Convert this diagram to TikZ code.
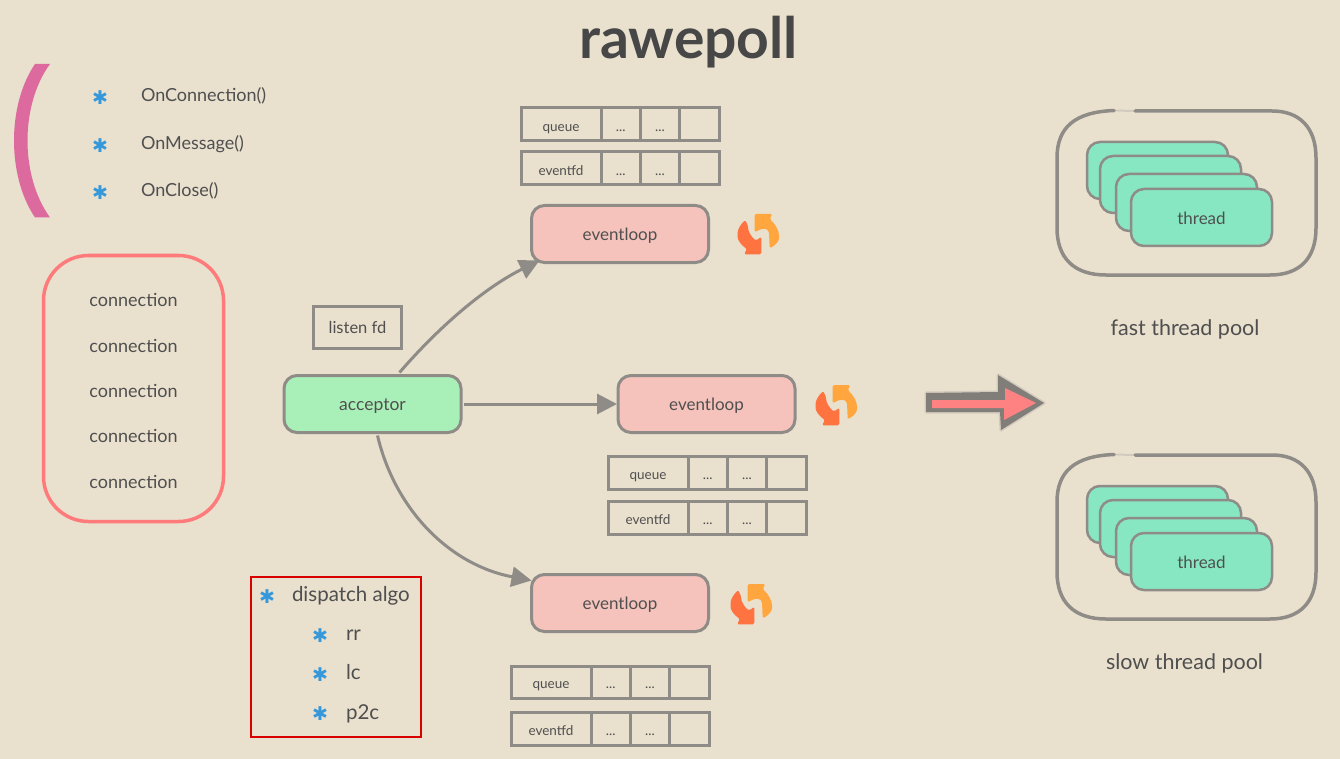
\documentclass[tikz,border=0pt]{standalone}
\usepackage{fontspec}
\setmainfont{Lato}
\newfontfamily\symfont{DejaVu Sans}
\usetikzlibrary{arrows.meta,calc}
\definecolor{bgc}{HTML}{E9E0CE}
\definecolor{linec}{HTML}{8F8C88}
\definecolor{txt}{HTML}{4F4F4F}
\definecolor{loopc}{HTML}{F5C3BB}
\definecolor{accc}{HTML}{A9F0B8}
\definecolor{thr}{HTML}{86E7C2}
\definecolor{pinkc}{HTML}{DD6A9E}
\definecolor{connc}{HTML}{FF7B7B}
\definecolor{bluec}{HTML}{3498DB}
\definecolor{amberc}{HTML}{FFA63F}
\definecolor{redorc}{HTML}{FF7340}
\newcommand{\fs}[1]{\fontsize{#1}{#1}\selectfont}
\tikzset{
 x=1pt,y=-1pt,
 every node/.style={text=txt,inner sep=0pt,outer sep=0pt,text height=15.6pt,text depth=2.2pt},
 lbl/.style={font=\fs{18}},
 poollbl/.style={font=\fs{21.5}},
 algo/.style={font=\fs{20.5}},
 cell/.style={draw=linec,line width=3pt,minimum height=33pt,anchor=west,font=\fs{13.5}},
 loopbox/.style={draw=linec,fill=loopc,line width=3pt,rounded corners=13pt,minimum width=177pt,minimum height=57pt,font=\fs{17}},
 thrbox/.style={draw=linec,fill=thr,line width=2.5pt,rounded corners=13pt,minimum width=141pt,minimum height=57pt,font=\fs{17}},
 conn/.style={draw=linec,line width=3pt,-{Triangle[length=20pt,width=20pt]}},
 star/.style={font=\symfont\fs{19},text=bluec},
 outerline/.style={draw=linec,line width=3.5pt,line cap=round},
}
\newcommand{\qtable}[5]{% prefix x y-centre label cellheight
 \node[cell,minimum width=80pt,minimum height=#5pt] (#1a) at (#2,#3) {#4};
 \node[cell,minimum width=39.5pt,minimum height=#5pt] (#1b) at (#1a.east) {...};
 \node[cell,minimum width=39pt,minimum height=#5pt] (#1c) at (#1b.east) {...};
 \node[cell,minimum width=39.5pt,minimum height=#5pt] (#1d) at (#1c.east) {};
}
\newcommand{\syncicon}[2]{%
 \begin{scope}[shift={(#1,#2)}]
  \fill[rounded corners=1.5pt,fill=amberc] (-3.3,-20) -- (14.3,-20) -- (11.7,-15) .. controls (17,-10) and (21,-4) .. (21,3) .. controls (21,8) and (16,12) .. (11.7,14.3) -- (11,-2.3) .. controls (8,-6) and (4,-6) .. (-3.3,-1.7) -- cycle;
  \fill[rounded corners=1.5pt,fill=redorc] (-12.7,-14) .. controls (-17,-10) and (-20.5,-5) .. (-20.5,1) .. controls (-20.5,6) and (-17,11) .. (-11,15) -- (-14,20.3) -- (3.3,20.3) -- (3.3,2.7) -- (-1.7,6.5) .. controls (-6,4) and (-10,-3) .. (-9.7,-7) -- cycle;
 \end{scope}}
\newcommand{\pool}[2]{% prefix, y offset
 \begin{scope}[yshift=-#2pt]
 \node[thrbox] (#1t1) at (1157.5,170.5) {};
 \node[thrbox] (#1t2) at (1170.5,184.5) {};
 \node[thrbox] (#1t3) at (1186.5,202.5) {};
 \node[thrbox] (#1t4) at (1201.5,217.5) {thread};
 \draw[outerline] (1135,111) -- (1272,111) .. controls (1300,111) and (1316,128) .. (1316,158) -- (1316,228) .. controls (1316,258) and (1300,275) .. (1270,275) -- (1106,275) .. controls (1074,275) and (1057,258) .. (1057,228) -- (1057,158) .. controls (1057,128) and (1074,112) .. (1114,110.5);
 \draw[draw=linec,line width=2pt,opacity=.25] (1114,110.5) -- (1135,111);
 \end{scope}}
\begin{document}
\begin{tikzpicture}
\useasboundingbox (0,0) rectangle (1340,759);
\fill[bgc] (0,0) rectangle (1340,759);
\node[font=\fs{57}\bfseries,text=txt!90!black] (title) at (688.5,52) {rawepoll};
% pink arc
\fill[pinkc] (35,64) .. controls (7,105) and (7,176) .. (35,217.5) -- (50,217.5) .. controls (20,176) and (20,105) .. (50,64) -- cycle;
% callbacks
\node[star] (s1) at (100,98) {✱};
\node[star] (s2) at (100,146) {✱};
\node[star] (s3) at (100,193) {✱};
\node[lbl,anchor=west] (cb1) at (141,95) {OnConnection()};
\node[lbl,anchor=west] (cb2) at (141,143) {OnMessage()};
\node[lbl,anchor=west] (cb3) at (141,190) {OnClose()};
% connections
\node[draw=connc,line width=3.5pt,rounded corners=45pt,minimum width=180pt,minimum height=266pt] (cbox) at (133.5,388.5) {};
\foreach \y/\n in {300/1,346/2,391/3,436/4,482/5}
  \node[lbl] (c\n) at (133.5,\y) {connection};
% tables
\qtable{qa}{521}{124.5}{queue}{33}
\qtable{fa}{521}{168.5}{eventfd}{33}
\qtable{qb}{608}{472.5}{queue}{33}
\qtable{fb}{608}{517.5}{eventfd}{33}
\qtable{qc}{511}{682}{queue}{32}
\qtable{fc}{511}{728.5}{eventfd}{33}
% loops
\node[loopbox] (l1) at (620,234) {eventloop};
\node[loopbox] (l2) at (706.5,404) {eventloop};
\node[loopbox] (l3) at (620,603) {eventloop};
\node[draw=linec,fill=accc,line width=3pt,rounded corners=13pt,minimum width=177pt,minimum height=57pt,font=\fs{17.5}] (acc) at (372.5,404) {acceptor};
\node[draw=linec,line width=3pt,minimum width=88pt,minimum height=42pt,font=\fs{16.5}] (lfd) at (357.5,327) {listen fd};
% connectors
\draw[conn] ([shift={(27,-3)}]acc.north) .. controls (445,320) and (490,285) .. ([shift={(8,-2)}]l1.south west);
\draw[conn] ([shift={(3,0)}]acc.east) -- ([xshift=-1pt]l2.west);
\draw[conn] ([shift={(5,3)}]acc.south) .. controls (395,510) and (450,565) .. ([shift={(0,6)}]l3.north west);
% icons
\syncicon{758}{234}
\syncicon{836}{405}
\syncicon{751}{604}
% big arrow
\draw[linec,line width=3pt,opacity=.25,line join=round] (926,393) -- (998,392) -- (998,375) -- (1044,403) -- (1001,430) -- (1000,412) -- (926,412) -- cycle;
\fill[linec!90!black] (926,393) -- (998,392) -- (998,375) -- (1044,403) -- (1001,430) -- (1000,412) -- (926,412) -- cycle;
\fill[connc!95!white] (932,400) -- (1005,400) -- (1005,388) -- (1036,403) -- (1004,420) -- (1004,408) -- (932,408) -- cycle;
% pools
\pool{a}{0}
\pool{b}{344}
\node[poollbl] (pa) at (1185,329) {fast thread pool};
\node[poollbl] (pb) at (1184.5,663) {slow thread pool};
% dispatch box
\node[draw=red!85!black,line width=2pt,minimum width=170pt,minimum height=160pt] (dbox) at (336,657) {};
\node[star] (d0) at (267,597) {✱};
\node[star] (d1) at (320,636) {✱};
\node[star] (d2) at (320,675) {✱};
\node[star] (d3) at (320,714) {✱};
\node[algo,anchor=west] (dt0) at (292,595) {dispatch algo};
\node[algo,anchor=west] (dt1) at (346,634) {rr};
\node[algo,anchor=west] (dt2) at (346,673) {lc};
\node[algo,anchor=west] (dt3) at (346,713) {p2c};
\end{tikzpicture}
\end{document}
